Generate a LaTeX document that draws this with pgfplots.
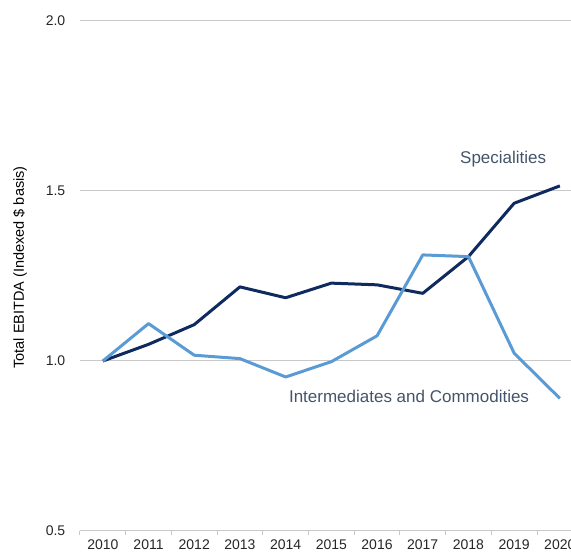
\documentclass[border=0pt]{standalone}
\usepackage{pgfplots}
\pgfplotsset{compat=1.18}
\usepackage{fontspec}
\setmainfont{Liberation Sans}
\definecolor{navy}{HTML}{0F2A5E}
\definecolor{lblue}{HTML}{5B9BD5}
\definecolor{txt}{HTML}{44546A}
\definecolor{gridc}{HTML}{C8C8C8}
\begin{document}
\begin{tikzpicture}
\useasboundingbox (0,0) rectangle (571pt,552pt);
\begin{axis}[
  at={(80pt,21pt)}, anchor=south west,
  scale only axis, width=502.7pt, height=510pt,
  xmin=2009.5, xmax=2020.5, ymin=0.5, ymax=2.0,
  axis x line*=bottom, axis y line*=left,
  x axis line style={draw=gridc, line width=1pt},
  y axis line style={draw=none},
  xtick={2010,...,2020},
  xticklabels={2010,2011,2012,2013,2014,2015,2016,2017,2018,2019,2020},
  minor xtick={2009.5,2010.5,...,2020.5},
  major x tick style={draw=none},
  minor x tick style={draw=gridc, line width=1pt},
  tick align=outside,
  minor tick length=4pt,
  ytick={0.5,1.0,1.5,2.0},
  ytick style={draw=none},
  yticklabel={\pgfmathprintnumber[fixed,fixed zerofill,precision=1]{\tick}},
  ymajorgrids, grid style={gridc, line width=1pt},
  tick label style={font=\fontsize{14}{16}\selectfont, text=black!85},
  yticklabel style={xshift=-7pt},
  xticklabel style={yshift=-0.5pt},
  /pgf/number format/assume math mode=true,
  ylabel={Total EBITDA (Indexed \$ basis)},
  every axis y label/.style={at={(rel axis cs:0,0.5167)}, xshift=-60pt, rotate=90, anchor=center, font=\fontsize{14.5}{16}\selectfont, text=black},
  clip=false,
]
\addplot[navy, line width=3pt, line join=round] coordinates {
(2010,1.000) (2011,1.049) (2012,1.107) (2013,1.218) (2014,1.186) (2015,1.229)
(2016,1.224) (2017,1.199) (2018,1.307) (2019,1.464) (2020,1.515)};
\addplot[lblue, line width=3pt, line join=round] coordinates {
(2010,1.000) (2011,1.110) (2012,1.017) (2013,1.007) (2014,0.953) (2015,0.998)
(2016,1.074) (2017,1.312) (2018,1.307) (2019,1.023) (2020,0.890)};
\node[anchor=base, text=txt, font=\fontsize{17}{19}\selectfont] at (axis cs:2018.76,1.582) {Specialities};
\node[anchor=base, text=txt, font=\fontsize{17}{19}\selectfont] at (axis cs:2016.70,0.879) {Intermediates and Commodities};
\end{axis}
\end{tikzpicture}
\end{document}
